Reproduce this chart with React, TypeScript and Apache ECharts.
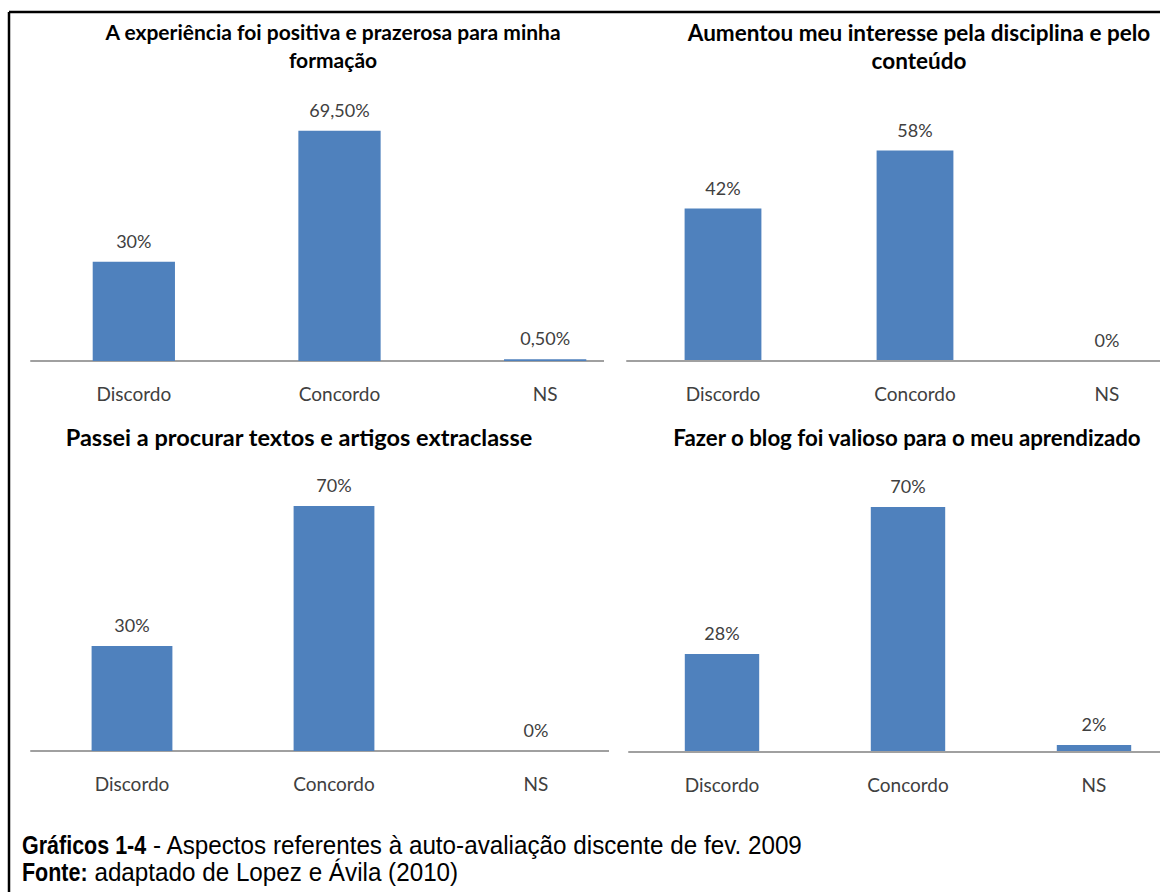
import React, { useEffect, useRef } from "react";
import * as echarts from "echarts";

const categories = ["Discordo", "Concordo", "NS"];

const chart1Values = [30, 69.5, 0.5];
const chart1Labels = ["30%", "69,50%", "0,50%"];
const chart2Values = [42, 58, 0];
const chart2Labels = ["42%", "58%", "0%"];
const chart3Values = [30, 70, 0];
const chart3Labels = ["30%", "70%", "0%"];
const chart4Values = [28, 70, 2];
const chart4Labels = ["28%", "70%", "2%"];

const chartTitles = [
  "A experiência foi positiva e prazerosa para minha\nformação",
  "Aumentou meu interesse pela disciplina e pelo\nconteúdo",
  "Passei a procurar textos e artigos extraclasse",
  "Fazer o blog foi valioso para o meu aprendizado",
];

const captionBold1 = "Gráficos 1-4";
const captionText1 = " - Aspectos referentes à auto-avaliação discente de fev. 2009";
const captionBold2 = "Fonte:";
const captionText2 = " adaptado de Lopez e Ávila (2010)";

const BAR = "#4F81BD";
const FONT = "Lato";
const CAP_FONT = "Liberation Sans";
const CAP_SIZE = 25;
const CAP_BOLD_SCALE = 0.86;
const CAP_REG_SCALE = 0.97;

function textWidth(text: string, bold: boolean) {
  const t = new (echarts.graphic as any).Text({
    style: {
      text,
      fontFamily: CAP_FONT,
      fontSize: CAP_SIZE,
      fontWeight: bold ? "bold" : "normal",
    },
  });
  return t.getBoundingRect().width;
}

export default function App() {
  const ref = useRef<HTMLDivElement>(null);

  useEffect(() => {
    document.body.style.margin = "0";
    if (!ref.current) return;
    const chart = echarts.init(ref.current, null, { renderer: "svg" });

    const grids = [
      { left: 31, width: 617, top: 96, height: 265 },
      { left: 627, width: 576, top: 107, height: 254 },
      { left: 31, width: 606, top: 471, height: 280 },
      { left: 629, width: 558, top: 472, height: 280 },
    ];
    const yMax = [80, 70, 80, 80];
    const axisZ = [0, 3, 0, 3];
    const values = [chart1Values, chart2Values, chart3Values, chart4Values];
    const labels = [chart1Labels, chart2Labels, chart3Labels, chart4Labels];

    const titlePos = [
      { x: 333, y: 45, size: 21, lh: 28 },
      { x: 919, y: 46, size: 22.5, lh: 28 },
      { x: 299, y: 437, size: 23.5, lh: 28 },
      { x: 907, y: 437, size: 22.3, lh: 28 },
    ];

    const captionLines = [
      { bold: captionBold1, reg: captionText1, y: 845 },
      { bold: captionBold2, reg: captionText2, y: 872 },
    ];
    const captionGraphics: any[] = [];
    captionLines.forEach((c) => {
      const bw = textWidth(c.bold, true) * CAP_BOLD_SCALE;
      captionGraphics.push({
        type: "text",
        z: 100,
        x: 22,
        y: c.y,
        scaleX: CAP_BOLD_SCALE,
        style: {
          text: c.bold,
          fill: "#000",
          fontFamily: CAP_FONT,
          fontWeight: "bold",
          fontSize: CAP_SIZE,
          textVerticalAlign: "middle",
        },
      });
      captionGraphics.push({
        type: "text",
        z: 100,
        x: 22 + bw,
        y: c.y,
        scaleX: CAP_REG_SCALE,
        style: {
          text: c.reg,
          fill: "#000",
          fontFamily: CAP_FONT,
          fontSize: CAP_SIZE,
          textVerticalAlign: "middle",
        },
      });
    });

    const option: any = {
      animation: false,
      backgroundColor: "#ffffff",
      grid: grids.map((g) => ({ ...g, containLabel: false })),
      xAxis: grids.map((_, i) => ({
        type: "category",
        gridIndex: i,
        z: axisZ[i],
        data: categories,
        axisTick: { show: false },
        axisLine: { show: true, lineStyle: { color: "#a0a0a0", width: 2 } },
        axisLabel: {
          color: "#404040",
          fontFamily: FONT,
          fontSize: 19,
          margin: 23,
        },
        splitLine: { show: false },
      })),
      yAxis: grids.map((_, i) => ({
        type: "value",
        gridIndex: i,
        min: 0,
        max: yMax[i],
        show: false,
        splitLine: { show: false },
      })),
      series: values.map((vals, i) => ({
        type: "bar",
        xAxisIndex: i,
        yAxisIndex: i,
        data: vals,
        barWidth: "40%",
        itemStyle: { color: BAR },
        label: {
          show: true,
          position: "top",
          distance: 12,
          color: "#404040",
          fontFamily: FONT,
          fontSize: 18,
          formatter: (p: any) => labels[i][p.dataIndex],
        },
      })),
      graphic: [
        {
          type: "rect",
          z: 1,
          shape: { x: 604, y: 354, width: 46, height: 14 },
          style: { fill: "#ffffff" },
        },
        {
          type: "rect",
          z: 1,
          shape: { x: 609, y: 744, width: 30, height: 14 },
          style: { fill: "#ffffff" },
        },
        {
          type: "line",
          z: 100,
          shape: { x1: 9, y1: 12, x2: 1260, y2: 12 },
          style: { stroke: "#000000", lineWidth: 2.5 },
        },
        {
          type: "line",
          z: 100,
          shape: { x1: 9, y1: 12, x2: 9, y2: 892 },
          style: { stroke: "#000000", lineWidth: 2.5 },
        },
        ...chartTitles.map((t, i) => ({
          type: "text",
          z: 100,
          x: titlePos[i].x,
          y: titlePos[i].y,
          style: {
            text: t,
            fill: "#000000",
            fontFamily: FONT,
            fontWeight: "bold",
            fontSize: titlePos[i].size,
            lineHeight: titlePos[i].lh,
            textAlign: "center",
            textVerticalAlign: "middle",
          },
        })),
        ...captionGraphics,
      ],
    };

    chart.setOption(option);
    return () => chart.dispose();
  }, []);

  return (
    <div style={{ width: 1160, height: 892, overflow: "hidden" }}>
      <div ref={ref} style={{ width: 1260, height: 892 }} />
    </div>
  );
}
